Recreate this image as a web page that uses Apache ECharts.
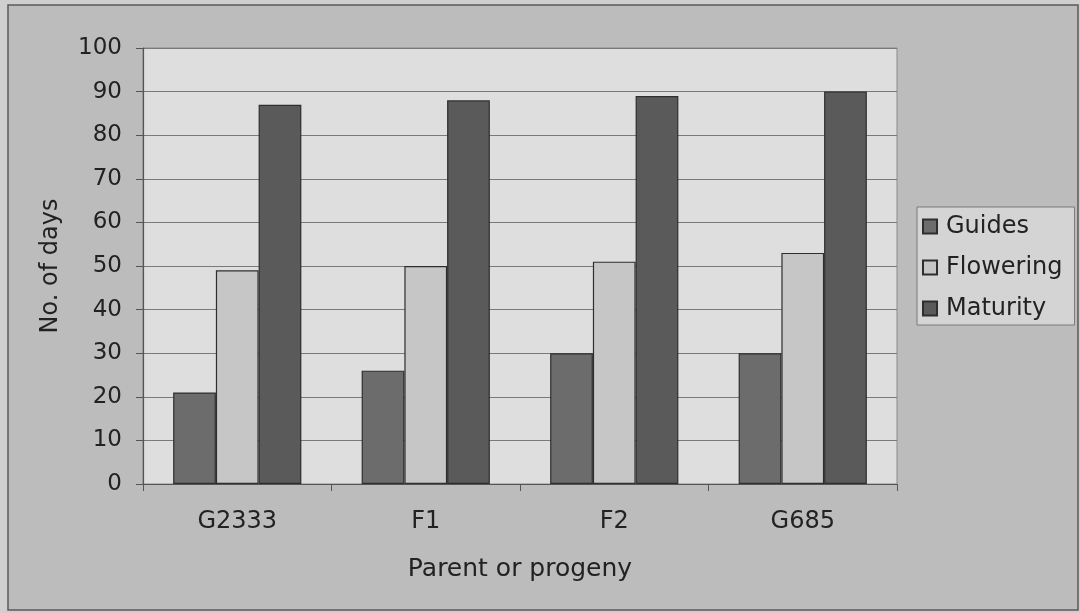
<!DOCTYPE html>
<html>
<head>
<meta charset="utf-8">
<script src="https://cdn.jsdelivr.net/npm/echarts@6/dist/echarts.min.js"></script>
<style>
  html, body { margin: 0; padding: 0; background: #cfcfcf; }
  #chart { width: 1080px; height: 613px; }
</style>
</head>
<body>
<div id="chart"></div>
<script>
// Days to each growth stage for parents and progeny
const categories = ['G2333', 'F1', 'F2', 'G685'];
const guides = [21, 26, 30, 30];
const flowering = [49, 50, 51, 53];
const maturity = [87, 88, 89, 90];
const yTicks = { min: 0, max: 100, interval: 10 };

const FONT = '"DejaVu Sans", Arial, sans-serif';
const chart = echarts.init(document.getElementById('chart'), null, { renderer: 'canvas' });

const barStyle = (color) => ({ color: color, borderColor: '#2e2e2e', borderWidth: 1.2 });

chart.setOption({
  animation: false,
  backgroundColor: '#cfcfcf',
  textStyle: { fontFamily: FONT },
  graphic: [
    {
      type: 'rect', z: -10,
      shape: { x: 8, y: 5, width: 1070, height: 605 },
      style: { fill: '#bcbcbc', stroke: '#5a5a5a', lineWidth: 1.5 }
    }
  ],
  grid: {
    left: 143, right: 183, top: 48, bottom: 129,
    show: true, backgroundColor: '#dedede', borderColor: '#8a8a8a', borderWidth: 1
  },
  legend: {
    orient: 'vertical',
    left: 917, top: 207,
    padding: [7, 12, 4, 5],
    itemGap: 16,
    itemWidth: 14, itemHeight: 14,
    icon: 'rect',
    backgroundColor: '#d4d4d4',
    borderColor: '#7a7a7a', borderWidth: 1,
    textStyle: { fontSize: 24, lineHeight: 25, color: '#222', fontFamily: FONT, padding: [0, 0, 0, 4] },
    data: ['Guides', 'Flowering', 'Maturity']
  },
  xAxis: {
    type: 'category',
    data: categories,
    name: 'Parent or progeny',
    nameLocation: 'middle',
    nameGap: 73,
    nameTextStyle: { fontSize: 25, color: '#222', fontFamily: FONT },
    axisLine: { lineStyle: { color: '#555', width: 1.2 } },
    axisTick: { show: true, length: 7, lineStyle: { color: '#555' } },
    axisLabel: { fontSize: 24, color: '#222', margin: 26, fontFamily: FONT }
  },
  yAxis: {
    type: 'value',
    min: yTicks.min, max: yTicks.max, interval: yTicks.interval,
    name: 'No. of days',
    nameLocation: 'middle',
    nameGap: 80,
    nameRotate: 90,
    nameTextStyle: { fontSize: 24, color: '#222', fontFamily: FONT },
    axisLine: { show: true, lineStyle: { color: '#555', width: 1.2 } },
    axisTick: { show: true, length: 7, lineStyle: { color: '#555' } },
    axisLabel: { fontSize: 23, color: '#222', margin: 21, fontFamily: FONT },
    splitLine: { show: true, lineStyle: { color: '#7a7a7a', width: 1 } }
  },
  series: [
    { name: 'Guides', type: 'bar', data: guides, itemStyle: barStyle('#6c6c6c'),
      barGap: '0%', barCategoryGap: '32%' },
    { name: 'Flowering', type: 'bar', data: flowering, itemStyle: barStyle('#c6c6c6') },
    { name: 'Maturity', type: 'bar', data: maturity, itemStyle: barStyle('#5a5a5a') }
  ]
});
</script>
</body>
</html>
